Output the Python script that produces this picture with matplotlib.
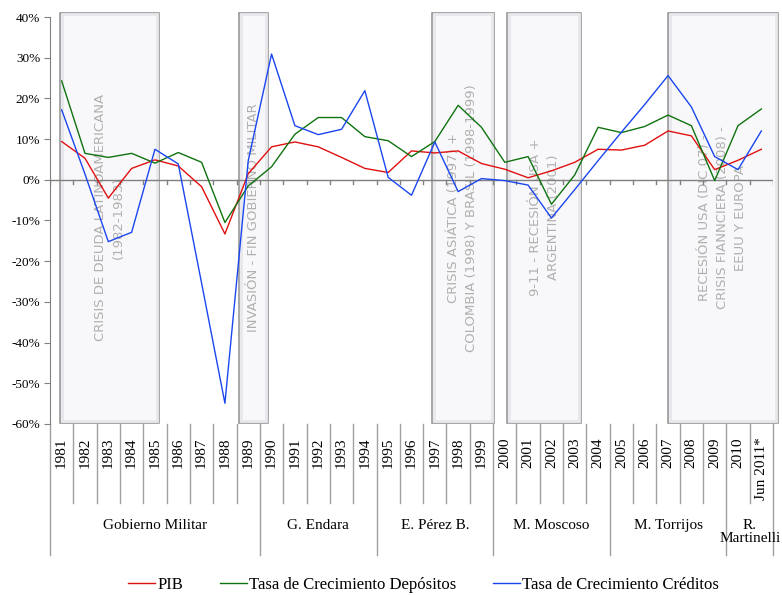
import matplotlib
matplotlib.use("Agg")
import matplotlib.pyplot as plt
from matplotlib.patches import Rectangle
from matplotlib.lines import Line2D
import matplotlib.transforms as mtransforms

# datos (%)
years = [str(y) for y in range(1981, 2011)] + ['Jun 2011*']
pib = [9.4, 5.3, -4.5, 2.8, 4.9, 3.4, -1.7, -13.3, 1.5, 8.1,
       9.3, 8.1, 5.5, 2.8, 1.8, 7.1, 6.6, 7.1, 4.0, 2.6,
       0.5, 2.2, 4.3, 7.5, 7.3, 8.5, 12.0, 10.8, 2.5, 4.8, 7.5]
depositos = [24.3, 6.5, 5.5, 6.5, 4.1, 6.7, 4.3, -10.5, -1.5, 3.2,
             11.2, 15.3, 15.3, 10.6, 9.6, 5.7, 9.4, 18.3, 12.9, 4.3,
             5.7, -6.0, 1.2, 12.9, 11.6, 13.1, 15.9, 13.3, -0.2, 13.3, 17.4]
creditos = [17.2, 1.4, -15.2, -12.9, 7.5, 3.9, -25.4, -54.9, 4.7, 30.9,
            13.3, 11.1, 12.4, 21.9, 0.6, -3.8, 9.3, -2.9, 0.3, -0.2,
            -1.3, -9.4, -2.4, 4.7, 11.7, 18.5, 25.6, 17.9, 5.7, 2.5, 12.0]

# gobiernos: (nombre, numero de años)
gobiernos = [('Gobierno Militar', 9), ('G. Endara', 5), ('E. Pérez B.', 5),
             ('M. Moscoso', 5), ('M. Torrijos', 5), ('R.\nMartinelli', 2)]

# periodos de crisis (inicio, fin en indice de categoria, texto)
crisis = [(-0.06, 4.19, 'CRISIS DE DEUDA LATINOAMERICANA\n(1982-1983)'),
          (7.61, 8.83, 'INVASIÓN - FIN GOBIERNO MILITAR'),
          (15.88, 18.53, 'CRISIS ASIÁTICA (1997) +\nCOLOMBIA (1998) Y BRASIL (1998-1999)'),
          (19.1, 22.28, '9-11 - RECESIÓN USA +\nARGENTINA (2001)'),
          (26.0, 30.7, 'RECESIÓN USA (DIC 07) -\nCRISIS FIANNCIERA (2008) -\nEEUU Y EUROPA')]

serif = 'Liberation Serif'
gray = '#909090'

fig = plt.figure(figsize=(7.82, 5.96), dpi=100)
ax = fig.add_axes([50/782, 1-424/596, 723/782, 407/596])
n = len(years)
x = list(range(n))
ax.set_xlim(-0.5, n - 0.5)
ax.set_ylim(-60, 40)

# cajas de crisis
for x0, x1, txt in crisis:
    ax.add_patch(Rectangle((x0, -59.7), x1 - x0, 100.8, facecolor='#f8f8fa',
                           edgecolor=gray, lw=1.1, clip_on=False, zorder=1))
    ax.add_patch(Rectangle((x0 + 0.09, -59.3), x1 - x0 - 0.18, 100.0, facecolor='none',
                           edgecolor='#e8e8ec', lw=2.0, clip_on=False, zorder=1))
    ax.text((x0 + x1) / 2, -9.3, txt, rotation=90, ha='center', va='center',
            multialignment='center', fontsize=9.5, color='#b0b0b0',
            family='DejaVu Sans', linespacing=1.5, zorder=2)

# linea cero y marcas
ax.axhline(0, color='#808080', lw=1, zorder=3)
for k in range(n + 1):
    ax.plot([k - 0.5, k - 0.5], [0, -1.0], color='#808080', lw=1, zorder=3)

ax.plot(x, pib, color='#e01010', lw=1.0, zorder=5, label='PIB')
ax.plot(x, depositos, color='#0f730f', lw=1.0, zorder=5, label='Tasa de Crecimiento Depósitos')
ax.plot(x, creditos, color='#1a46f0', lw=1.0, zorder=5, label='Tasa de Crecimiento Créditos')

# eje y
for s in ['top', 'right', 'bottom']:
    ax.spines[s].set_visible(False)
ax.spines['left'].set_color('#808080')
ticks = list(range(-60, 41, 10))
ax.set_yticks(ticks)
ax.set_yticklabels([f'{t}%' for t in ticks], family=serif, fontsize=9.5)
ax.tick_params(axis='y', direction='out', length=4, color='#808080', pad=3)
ax.set_xticks([])

# eje de categorias (años + gobiernos)
trans = mtransforms.blended_transform_factory(ax.transData, ax.transAxes)
bounds = [0]
for name, cnt in gobiernos:
    bounds.append(bounds[-1] + cnt)
for k in range(n + 1):
    low = -0.322 if k in bounds else -0.194
    ax.add_line(Line2D([k - 0.5, k - 0.5], [0, low], transform=trans,
                       color='#a0a0a0', lw=1, clip_on=False))
for i, lab in enumerate(years):
    ax.text(i, -0.032, lab, transform=trans, rotation=90, ha='center', va='top',
            family=serif, fontsize=11)
for j, (name, cnt) in enumerate(gobiernos):
    c = (bounds[j] + bounds[j + 1] - 1) / 2
    ax.text(c, -0.233, name, transform=trans, ha='center', va='top',
            family=serif, fontsize=11, linespacing=1.0)

fig.legend(loc='center', bbox_to_anchor=(0.542, 1 - 585/596), ncol=3, frameon=False,
           prop={'family': serif, 'size': 12}, handlelength=1.6, handletextpad=0.15,
           columnspacing=2.2)

fig.savefig('out.png', dpi=100)
